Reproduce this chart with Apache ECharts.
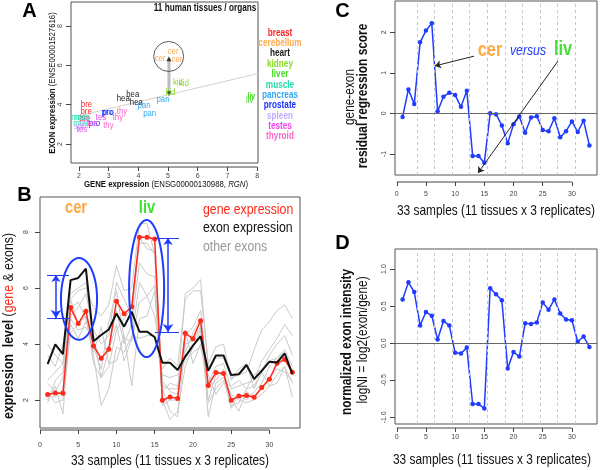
<!DOCTYPE html>
<html><head><meta charset="utf-8">
<script src="https://cdn.jsdelivr.net/npm/echarts@6/dist/echarts.min.js"></script>
<style>html,body{margin:0;padding:0;background:#fff}#c{width:600px;height:470px}</style>
</head><body><div id="c"></div>
<script>
// ---------------- data ----------------
const samples = Array.from({length: 33}, (_, i) => i + 1);
const tissues = ['breast','cerebellum','heart','kidney','liver','muscle','pancreas','prostate','spleen','testes','thyroid'];
const tissueAbbr = ['bre','cer','hea','kid','liv','mus','pan','pro','spl','tes','thy'];
const tissueColors = ['#ff2424','#ffaa50','#222222','#88dd22','#44dd22','#22dda8','#33aaee','#1a30ff','#c4aaff','#ee44ee','#ff66cc'];
const geneExpr = [2.20,2.25,2.24,5.30,4.73,5.17,3.93,3.49,3.81,5.53,5.08,5.33,7.81,7.81,7.75,1.99,2.11,2.05,4.38,4.19,4.83,2.52,2.98,2.95,1.99,2.14,2.16,2.10,2.45,2.74,3.31,3.45,2.99];
const exonExpr = [3.28,3.99,3.64,6.28,6.36,6.69,4.10,4.32,4.52,5.09,4.62,5.15,4.44,4.44,4.24,3.33,3.33,3.07,3.55,3.94,4.28,3.04,3.59,3.59,2.89,2.92,3.25,2.75,3.04,3.37,3.34,3.66,2.93];
const otherExon1 = [2.7,3.0,3.3,5.6,5.9,6.0,5.3,5.0,5.4,6.8,5.9,6.0,8.3,8.3,7.2,2.5,2.4,2.4,5.8,6.0,6.3,3.2,3.5,3.5,2.8,2.9,3.0,3.8,4.5,4.8,5.2,5.4,4.9];
const otherExon2 = [2.0,2.5,1.5,5.0,5.3,5.8,4.5,4.0,4.3,6.2,5.6,5.0,7.6,7.6,7.2,1.8,2.0,2.0,4.3,4.6,5.2,2.6,3.2,3.3,2.4,2.5,2.6,2.7,3.4,3.8,4.2,4.7,4.3];
const otherExon3 = [3.6,3.2,4.0,5.6,4.7,5.2,3.3,2.8,3.2,4.5,4.9,5.3,7.8,7.4,7.3,2.4,1.6,1.4,4.0,4.1,4.6,2.0,2.9,3.0,1.7,2.2,2.0,2.3,2.6,3.2,3.5,3.8,3.2];
const otherExon4 = [2.6,2.3,2.8,4.9,4.5,4.6,4.1,3.4,3.9,5.2,4.0,4.7,6.9,6.5,6.4,2.7,2.3,2.2,4.5,3.3,4.0,2.5,2.7,3.1,2.0,1.6,2.3,2.1,2.4,2.8,3.1,3.0,2.7];
const otherExon5 = [1.9,2.7,3.0,5.3,5.5,4.9,3.7,4.6,3.3,3.4,4.3,2.5,4.9,5.0,5.9,2.0,1.3,1.6,3.2,3.9,4.5,1.9,2.4,2.7,1.8,1.9,2.4,2.5,3.0,2.5,2.6,3.2,2.1];
const otherExon6 = [2.3,1.9,2.0,4.4,4.7,5.0,3.6,1.8,2.4,3.9,3.7,4.3,4.2,4.3,4.3,2.9,2.8,2.9,3.4,3.7,3.9,2.9,2.2,2.6,2.5,2.7,2.4,2.9,3.1,3.4,3.5,3.7,3.0];
const otherExon7 = [4.0,3.6,3.3,5.8,6.0,6.2,3.9,3.1,4.8,5.9,4.2,4.1,5.5,5.7,5.0,3.1,3.5,3.2,5.6,5.9,5.9,3.3,3.9,4.0,2.7,3.1,3.3,2.4,3.0,3.6,4.0,4.3,3.6];
const otherExon8 = [2.2,2.1,2.4,4.7,4.2,4.8,4.3,2.8,3.8,4.7,3.4,4.2,6.2,5.7,6.1,2.3,2.6,2.5,3.7,4.4,4.9,1.4,2.6,2.8,2.2,2.0,1.9,2.0,2.2,2.5,2.9,3.2,2.6];
const otherExons = [otherExon1,otherExon2,otherExon3,otherExon4,otherExon5,otherExon6,otherExon7,otherExon8];
const residualScore = [-0.09,0.59,0.23,1.75,2.04,2.22,0.05,0.41,0.51,0.45,0.16,0.56,-1.05,-1.05,-1.22,0.00,-0.02,-0.30,-0.74,-0.27,-0.08,-0.48,-0.10,-0.07,-0.41,-0.44,-0.12,-0.59,-0.44,-0.20,-0.46,-0.18,-0.79];
const logNI = [0.59,0.82,0.69,0.24,0.42,0.37,0.05,0.30,0.24,-0.13,-0.14,-0.06,-0.82,-0.82,-0.88,0.74,0.66,0.58,-0.34,-0.12,-0.18,0.27,0.26,0.28,0.55,0.45,0.59,0.40,0.32,0.31,0.02,0.09,-0.05];
const tissueBoundaries = [3.5,6.5,9.5,12.5,15.5,18.5,21.5,24.5,27.5,30.5];
const sampleTicks = [0,5,10,15,20,25,30];
const geneTicks = [2,3,4,5,6,7,8];
const exonTicks = [2,4,6,8];
const levelTicks = [2,4,6,8];
const residualTicks = [-1,0,1,2];
const logNITicks = [-1,-0.5,0,0.5,1];
// annotations (data units)
const regressionLine = [[2.05,3.45],[8.03,5.58]];
const cerCircleCenter = [5.02,6.45];
const shiftArrow = [[5.03,4.55],[5.03,6.33]];
const ellipseAnn = [[5.1,5.61,2.36,1.46],[13.94,5.98,2.29,2.45]];
const rangeArrows = [[[2.09,6.46],[2.09,4.93]],[[16.74,7.79],[16.74,4.43]]];
const rangeBars = [[[0.92,6.46],[3.8,6.46]],[[0.92,4.93],[3.8,4.93]],[[15.04,7.79],[18.18,7.79]],[[15.04,4.43],[18.18,4.43]]];
const pointerArrows = [[[13.23,1.41],[6.55,1.17]],[[27.62,1.29],[13.92,-1.47]]];

// ---------------- layout / style ----------------
const SANS = "'Liberation Sans',Arial,Helvetica,sans-serif";
const SQ = 0.82; // horizontal squeeze (narrow Helvetica look)
const BLUE = '#1f3cff';
const grids = [
  {left:71, top:2, width:187, height:161},
  {left:40, top:197, width:260, height:231},
  {left:395, top:1, width:202, height:174},
  {left:395, top:249, width:202, height:175}
];
const xOffsets = [4,2,7,4];

function xAxisCfg(gi, min, max, ticks, margin) {
  return {type:'value', gridIndex:gi, min, max, offset:xOffsets[gi],
    axisLine:{show:false,onZero:false}, splitLine:{show:false},
    axisTick:{show:true, customValues:ticks, length:4, lineStyle:{color:'#444'}},
    axisLabel:{customValues:ticks, fontSize:7, color:'#444', margin, fontFamily:SANS}};
}
function yAxisCfg(gi, min, max, ticks, margin, fmt) {
  return {type:'value', gridIndex:gi, min, max,
    axisLine:{show:false,onZero:false}, splitLine:{show:false},
    axisTick:{show:true, customValues:ticks, length:5, lineStyle:{color:'#444'}},
    axisLabel:{customValues:ticks, fontSize:7, color:'#444', margin, rotate:90, fontFamily:SANS,
      formatter: fmt || (v => String(v))}};
}

const chart = echarts.init(document.getElementById('c'), null, {renderer:'canvas'});

const vlineMarks = () => ({
  silent:true, symbol:['none','none'], label:{show:false}, animation:false,
  data: tissueBoundaries.map(v => ({xAxis:v, lineStyle:{color:'#c8c8c8', type:[3,3], width:1}}))
    .concat([{yAxis:0, lineStyle:{color:'#666', type:'solid', width:1}}])
});

const series = [];
// ---- Panel A ----
series.push({type:'line', xAxisIndex:0, yAxisIndex:0, data:regressionLine, symbol:'none',
  lineStyle:{color:'#d0d0d0', width:1}, z:1});
series.push({type:'line', xAxisIndex:0, yAxisIndex:0, data:shiftArrow, symbol:'none',
  lineStyle:{color:'#bdbdbd', width:3}, z:2});
series.push({type:'scatter', xAxisIndex:0, yAxisIndex:0, data:[
  {value:shiftArrow[1], symbolRotate:0}, {value:shiftArrow[0], symbolRotate:180}],
  symbol:'triangle', symbolSize:[5,5], itemStyle:{color:'#111'}, z:3});
series.push({type:'scatter', xAxisIndex:0, yAxisIndex:0, data:[cerCircleCenter], symbolSize:30,
  itemStyle:{color:'rgba(0,0,0,0)', borderColor:'#333', borderWidth:1}, z:3});
series.push({type:'custom', xAxisIndex:0, yAxisIndex:0, z:4,
  data: samples.map((s, i) => [geneExpr[i], exonExpr[i], Math.floor(i / 3)]),
  renderItem(params, api) {
    const p = api.coord([api.value(0), api.value(1)]);
    const t = api.value(2);
    return {type:'text', x:p[0], y:p[1], scaleX:SQ,
      style:{text:tissueAbbr[t], fill:tissueColors[t], fontSize:9.5, fontFamily:SANS, align:'center', verticalAlign:'middle'}};
  }});
// ---- Panel B ----
otherExons.forEach(arr => series.push({type:'line', xAxisIndex:1, yAxisIndex:1,
  data: samples.map((s, i) => [s, arr[i]]), symbol:'none', lineStyle:{color:'#c9c9c9', width:1}, z:1}));
series.push({type:'line', xAxisIndex:1, yAxisIndex:1, data: samples.map((s, i) => [s, geneExpr[i]]),
  symbol:'circle', symbolSize:5, showAllSymbol:true, itemStyle:{color:'#ff2a1a'},
  lineStyle:{color:'#ff2a1a', width:1.5}, z:3});
series.push({type:'line', xAxisIndex:1, yAxisIndex:1, data: samples.map((s, i) => [s, exonExpr[i]]),
  symbol:'none', lineStyle:{color:'#111', width:2}, z:4});
series.push({type:'custom', xAxisIndex:1, yAxisIndex:1, data:ellipseAnn, z:6,
  renderItem(params, api) {
    const c = api.coord([api.value(0), api.value(1)]);
    const s = api.size([api.value(2), api.value(3)]);
    const pts = [];
    for (let k = 0; k < 90; k++) { const t = k / 90 * 2 * Math.PI; pts.push([c[0] + s[0] * Math.cos(t), c[1] + s[1] * Math.sin(t)]); }
    return {type:'polygon', shape:{points:pts}, style:{fill:null, stroke:BLUE, lineWidth:2}};
  }});
series.push({type:'lines', coordinateSystem:'cartesian2d', xAxisIndex:1, yAxisIndex:1, z:6,
  data: rangeArrows.map(c => ({coords:c})), symbol:['arrow','arrow'], symbolSize:[7,8],
  lineStyle:{color:BLUE, width:1.5, opacity:1}});
series.push({type:'lines', coordinateSystem:'cartesian2d', xAxisIndex:1, yAxisIndex:1, z:6,
  data: rangeBars.map(c => ({coords:c})), symbol:['none','none'], lineStyle:{color:BLUE, width:1, opacity:1}});
// ---- Panel C ----
series.push({type:'line', xAxisIndex:2, yAxisIndex:2, data: samples.map((s, i) => [s, residualScore[i]]),
  symbol:'circle', symbolSize:4.5, showAllSymbol:true, itemStyle:{color:BLUE},
  lineStyle:{color:BLUE, width:1.5}, markLine: vlineMarks(), z:3});
series.push({type:'lines', coordinateSystem:'cartesian2d', xAxisIndex:2, yAxisIndex:2, z:6,
  data: pointerArrows.map(c => ({coords:c})), symbol:['none','arrow'], symbolSize:6,
  lineStyle:{color:'#222', width:1, opacity:1}});
// ---- Panel D ----
series.push({type:'line', xAxisIndex:3, yAxisIndex:3, data: samples.map((s, i) => [s, logNI[i]]),
  symbol:'circle', symbolSize:4.5, showAllSymbol:true, itemStyle:{color:BLUE},
  lineStyle:{color:BLUE, width:1.5}, markLine: vlineMarks(), z:3});

chart.setOption({
  animation:false,
  textStyle:{fontFamily:SANS},
  grid: grids.map(g => Object.assign({show:true, borderColor:'#555', borderWidth:1, backgroundColor:'rgba(0,0,0,0)', containLabel:false}, g)),
  xAxis: [
    xAxisCfg(0, 1.73, 8.03, geneTicks, 6),
    xAxisCfg(1, 0, 34, sampleTicks, 12),
    xAxisCfg(2, -0.3, 34.3, sampleTicks, 9),
    xAxisCfg(3, -0.3, 34.3, sampleTicks, 6)
  ],
  yAxis: [
    yAxisCfg(0, 1.03, 9.22, exonTicks, 7),
    yAxisCfg(1, 1.0, 9.25, levelTicks, 10),
    yAxisCfg(2, -1.52, 2.77, residualTicks, 7),
    yAxisCfg(3, -1.09, 1.27, logNITicks, 7, v => v.toFixed(1))
  ],
  series
});

// ---------------- text + R-style axis lines ----------------
const g = [];
function txt(x, y, text, o) {
  o = o || {};
  g.push({type:'text', x, y, rotation:o.rot || 0, scaleX:(o.sq === undefined ? SQ : o.sq), z:100, silent:true,
    style:{text, fill:o.color || '#111', fontSize:o.size || 12, fontWeight:o.weight || 'normal',
      fontStyle:o.style || 'normal', fontFamily:SANS, align:o.align || 'center',
      verticalAlign:'middle', rich:o.rich}});
}
// panel letters
[['A',29.5,11],['B',24.5,195.5],['C',342.5,11],['D',342.5,243.5]].forEach(([t,x,y]) =>
  txt(x, y, t, {size:20, weight:'bold', color:'#000', sq:1}));
// Panel A texts
txt(205, 8, '11 human tissues / organs', {size:10, weight:'bold'});
tissues.forEach((t, i) => txt(280, 33 + i * 10.35, t, {size:10, weight:'bold', color:tissueColors[i]}));
txt(166, 184, '{b|GENE expression} (ENSG00000130988, {i|RGN})', {size:9.5,
  rich:{b:{fontWeight:'bold', fontSize:9.5, fontFamily:SANS, fill:'#111'}, i:{fontStyle:'italic', fontSize:9.5, fontFamily:SANS, fill:'#111'}}});
txt(52, 83, '{b|EXON expression} (ENSE00001527616)', {size:9.5, rot:Math.PI/2,
  rich:{b:{fontWeight:'bold', fontSize:9.5, fontFamily:SANS, fill:'#111'}}});
// Panel B texts
txt(76, 208, 'cer', {size:18, weight:'bold', color:'#ffaa44'});
txt(147, 208, 'liv', {size:18, weight:'bold', color:'#44e033'});
txt(203, 210, 'gene expression', {size:15, color:'#ff2a1a', align:'left'});
txt(203, 228, 'exon expression', {size:15, color:'#111', align:'left'});
txt(203, 247, 'other exons', {size:15, color:'#999', align:'left'});
txt(9, 326, '{b|expression  level} ({r|gene} & exons)', {size:15, rot:Math.PI/2,
  rich:{b:{fontWeight:'bold', fontSize:15, fontFamily:SANS, fill:'#111'}, r:{fontSize:15, fontFamily:SANS, fill:'#ff2a1a'}}});
txt(170, 461, '33 samples (11 tissues x 3 replicates)', {size:14.5});
// Panel C texts
txt(350, 97, 'gene-exon', {size:14.5, rot:Math.PI/2});
txt(363, 96, 'residual regression score', {size:14.5, weight:'bold', rot:Math.PI/2});
txt(496, 211, '33 samples (11 tissues x 3 replicates)', {size:14.5});
txt(490, 50, 'cer', {size:20, weight:'bold', color:'#ffaa44'});
txt(528, 51, 'versus', {size:15, style:'italic', color:BLUE});
txt(563, 49, 'liv', {size:20, weight:'bold', color:'#44e033'});
// Panel D texts
txt(347, 342, 'normalized exon intensity', {size:14.5, weight:'bold', rot:Math.PI/2});
txt(363, 340, 'logNI = log2(exon/gene)', {size:14.5, rot:Math.PI/2});
txt(492, 460, '33 samples (11 tissues x 3 replicates)', {size:14.5});
// R-style x-axis lines (first tick to last tick)
[[0, geneTicks],[1, sampleTicks],[2, sampleTicks],[3, sampleTicks]].forEach(([i, ticks]) => {
  const x1 = chart.convertToPixel({xAxisIndex:i}, ticks[0]);
  const x2 = chart.convertToPixel({xAxisIndex:i}, ticks[ticks.length - 1]);
  const y = grids[i].top + grids[i].height + xOffsets[i];
  g.push({type:'line', silent:true, z:50, shape:{x1, y1:y, x2, y2:y}, style:{stroke:'#444', lineWidth:1}});
});
chart.setOption({graphic: g});
</script></body></html>
